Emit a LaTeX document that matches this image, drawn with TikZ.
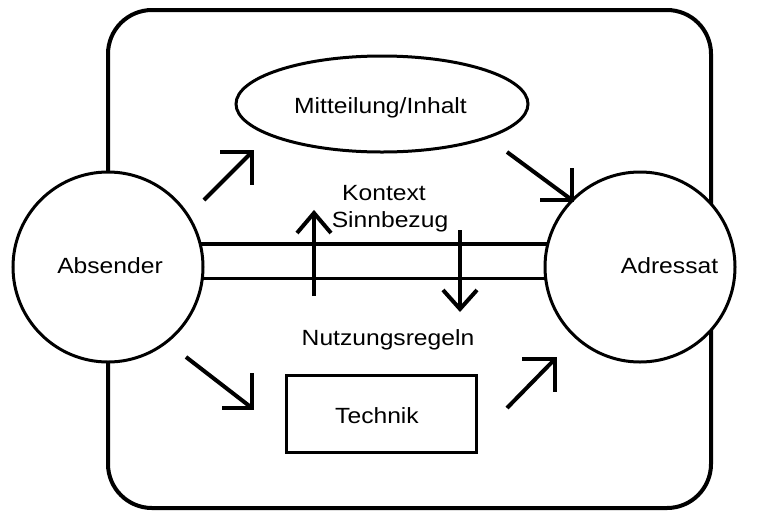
\documentclass[tikz,border=0pt]{standalone}
\usepackage{fontspec}
\setmainfont{Liberation Sans}[FakeStretch=1.12]
\usetikzlibrary{shapes.geometric}
\begin{document}
\begin{tikzpicture}[x=1pt,y=-1pt,
  every node/.style={outer sep=0pt,inner sep=0pt},
  txt/.style={anchor=base,font=\fontsize{22}{26}\selectfont},
  frame/.style={draw,line width=4pt,rounded corners=44pt,rectangle},
  party/.style={draw,fill=white,circle,line width=3pt,minimum size=190pt},
  arr/.style={line width=4pt},
  head/.style={line width=4pt,line join=miter,miter limit=10},
  band/.style={line width=3.3pt}]
\useasboundingbox (0,0) rectangle (757,515);
% frame
\node[frame,minimum width=603pt,minimum height=498pt] (frm) at (409.5,259) {};
% parties
\node[party] (abs) at (108,267) {};
\node[party] (adr) at (640,267) {};
\node[txt] (tabs) at (110,273) {Absender};
\node[txt] (tadr) at (669.5,273) {Adressat};
% channel
\draw[band] (abs.14) -- (adr.166);
\draw[band] (abs.-7.9) -- (adr.187.9);
% message
\node[draw,ellipse,line width=3pt,minimum width=292pt,minimum height=96pt] (msg) at (382,104) {};
\node[txt] (tmsg) at (380.5,113) {Mitteilung/Inhalt};
% technik
\node[draw,rectangle,line width=3pt,minimum width=190pt,minimum height=77pt] (tec) at (381,413.5) {};
\node[txt] (ttec) at (377,423) {Technik};
% labels
\node[txt] (tkon) at (384,200) {Kontext};
\node[txt] (tsin) at (390,227) {Sinnbezug};
\node[txt] (tnut) at (388,345) {Nutzungsregeln};
% diagonal arrows
\coordinate (a1s) at (204,200); \coordinate (a1t) at (252,152);
\coordinate (a1h) at (220,152); \coordinate (a1v) at (252,185);
\coordinate (a2s) at (507,152); \coordinate (a2t) at (572,200);
\coordinate (a2h) at (540,200); \coordinate (a2v) at (572,168);
\coordinate (a3s) at (186,357); \coordinate (a3t) at (252,408);
\coordinate (a3h) at (222,408); \coordinate (a3v) at (252,373);
\coordinate (a4s) at (507,408); \coordinate (a4t) at (555,359);
\coordinate (a4h) at (522,359); \coordinate (a4v) at (555,392);
\foreach \i in {1,2,3,4}{
  \draw[arr] (a\i s) -- (a\i t);
  \draw[head] (a\i h) -- (a\i t) -- (a\i v);
}
% vertical arrows
\coordinate (ups) at (314,296); \coordinate (upt) at (314,213);
\coordinate (upl) at (297,233); \coordinate (upr) at (331,233);
\coordinate (dns) at (460,230); \coordinate (dnt) at (460,309);
\coordinate (dnl) at (443,290); \coordinate (dnr) at (477,290);
\draw[arr] (ups) -- (upt);
\draw[head] (upl) -- (upt) -- (upr);
\draw[arr] (dns) -- (dnt);
\draw[head] (dnl) -- (dnt) -- (dnr);
\end{tikzpicture}
\end{document}
